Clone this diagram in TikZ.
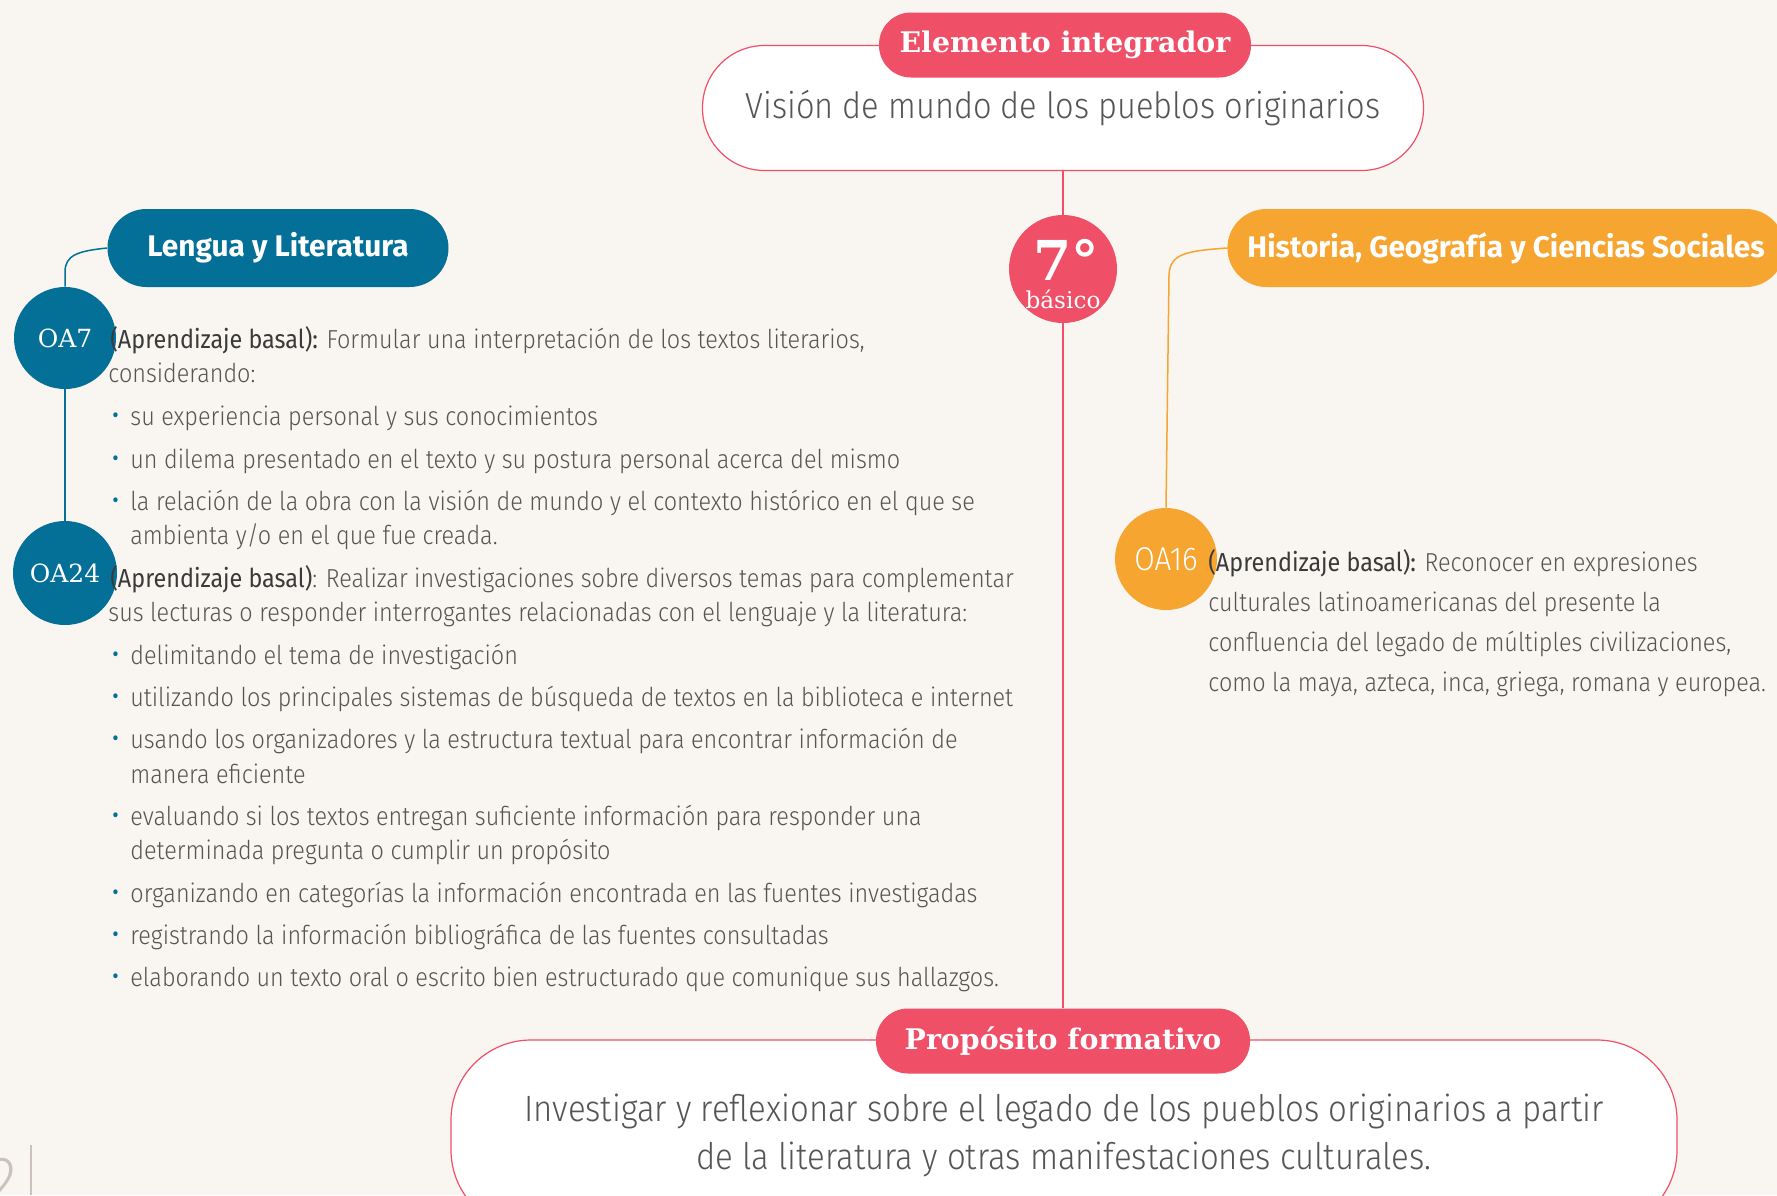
\documentclass[tikz,border=0pt]{standalone}
\usepackage{fontspec}
\IfFontExistsTF{Fira Sans Light}
  {\setmainfont{Fira Sans Light}[FakeStretch=0.9,BoldFont={Fira Sans}]}
  {\setmainfont{Fira Sans}[FakeStretch=0.9]}
\newfontfamily\headsans{Fira Sans}
\newfontfamily\slab{DejaVu Serif}
\usepackage{xcolor}
\usetikzlibrary{positioning}

\definecolor{cream}{HTML}{F9F6F1}
\definecolor{rosered}{HTML}{EF4F67}
\definecolor{petrol}{HTML}{046F97}
\definecolor{amber}{HTML}{F6A531}
\definecolor{ink}{HTML}{555555}
\definecolor{inkdark}{HTML}{3A3A3A}
\definecolor{pagegray}{HTML}{CBC3BB}

\newcommand\lead[1]{\textcolor{inkdark}{\textbf{#1}}}
\newcommand\blt{\makebox[9.5pt][l]{\textcolor{petrol}{\raisebox{-0.6pt}{\scalebox{1.25}{\textbullet}}}}}

\tikzstyle{redline} = [rosered, line width=0.75pt]
\tikzstyle{blueline} = [petrol, line width=0.75pt]
\tikzstyle{orangeline} = [amber, line width=0.75pt]

\begin{document}
\begin{tikzpicture}[x=0.5pt, y=-0.5pt]
\tikzstyle{bigbox} = [rectangle, draw=rosered, line width=0.6pt, fill=white, text=ink, align=center]
\tikzstyle{redpill} = [rectangle, inner sep=0pt, fill=rosered, text=white, font=\slab\bfseries\fontsize{14.2}{16}\selectfont, minimum height=32.5pt, rounded corners=16pt]
\tikzstyle{subject} = [rectangle, inner sep=0pt, text=white, font=\headsans\bfseries\fontsize{14.9}{17}\selectfont, minimum height=39pt, rounded corners=19.5pt]
\tikzstyle{oa} = [circle, inner sep=0pt, fill=petrol, text=white, font=\slab\fontsize{12.5}{14}\selectfont]
\tikzstyle{body} = [anchor=base west, inner sep=0pt, text=ink, font=\fontsize{13}{17}\selectfont]

\useasboundingbox (0,0) rectangle (1777,1195);
\clip (0,0) rectangle (1777,1195);
\fill [cream] (0,0) rectangle (1777,1195);

\node (vision) [bigbox, minimum width=360.5pt, minimum height=62.5pt, rounded corners=31pt, font=\fontsize{18.1}{20}\selectfont] at (1063,108) {Visión de mundo de los pueblos originarios};
\node (elemento) [redpill, minimum width=186pt] at (1065,45) {Elemento integrador};

\node (legado) [bigbox, minimum width=613pt, minimum height=95pt, rounded corners=40pt, font=\fontsize{18.3}{24}\selectfont] at (1064,1135) {Investigar y reflexionar sobre el legado de los pueblos originarios a partir\\de la literatura y otras manifestaciones culturales.};
\node (proposito) [redpill, minimum width=187pt] at (1063,1041) {Propósito formativo};

\node (grado) [circle, fill=rosered, minimum size=54pt, inner sep=0pt] at (1063,269) {};
\node (gradonum) [anchor=base, inner sep=0pt, text=white, font=\slab\bfseries\fontsize{27.5}{28}\selectfont] at (1066,280) {7°};
\node (gradotxt) [anchor=base, inner sep=0pt, text=white, font=\slab\fontsize{11.6}{12}\selectfont] at (1063,308) {básico};

\draw [redline] (vision.south) -- (grado.north);
\draw [redline] (grado.south) -- (proposito.north);

\node (lengua) [subject, fill=petrol, minimum width=170.5pt] at (278,248) {Lengua y Literatura};
\node (oa7) [oa, minimum size=51pt] at (65,338) {OA7};
\node (oa24) [oa, minimum size=52pt] at (65,573) {OA24};
\draw [blueline] (lengua.west) .. controls (78,251) and (65,255) .. (65,272) -- (oa7.north);
\draw [blueline] (oa7.south) -- (oa24.north);

\node (historia) [subject, fill=amber, anchor=west, inner xsep=10pt] at (1227,248) {Historia, Geografía y Ciencias Sociales};
\node (oa16) [circle, inner sep=0pt, fill=amber, minimum size=51pt, text=white, font=\fontsize{16.5}{18}\selectfont] at (1166,559) {OA16};
\draw [orangeline] (historia.west) .. controls (1185,251) and (1170,254) .. (1169,275) -- (oa16.north);

\node (oa7a) [body] at (110,348) {\lead{(Aprendizaje basal):} Formular una interpretación de los textos literarios,};
\node (oa7b) [body] at (108,382) {considerando:};
\node (oa7c) [body] at (111,425) {\blt su experiencia personal y sus conocimientos};
\node (oa7d) [body] at (111,468) {\blt un dilema presentado en el texto y su postura personal acerca del mismo};
\node (oa7e) [body] at (111,510) {\blt la relación de la obra con la visión de mundo y el contexto histórico en el que se};
\node (oa7f) [body] at (130,544) {ambienta y/o en el que fue creada.};

\node (oa24a) [body] at (110,587) {\lead{(Aprendizaje basal)}: Realizar investigaciones sobre diversos temas para complementar};
\node (oa24b) [body] at (108,621) {sus lecturas o responder interrogantes relacionadas con el lenguaje y la literatura:};
\node (oa24c) [body] at (111,664) {\blt delimitando el tema de investigación};
\node (oa24d) [body] at (111,706) {\blt utilizando los principales sistemas de búsqueda de textos en la biblioteca e internet};
\node (oa24e) [body] at (111,748) {\blt usando los organizadores y la estructura textual para encontrar información de};
\node (oa24f) [body] at (130,783) {manera eficiente};
\node (oa24g) [body] at (111,825) {\blt evaluando si los textos entregan suficiente información para responder una};
\node (oa24h) [body] at (130,859) {determinada pregunta o cumplir un propósito};
\node (oa24i) [body] at (111,902) {\blt organizando en categorías la información encontrada en las fuentes investigadas};
\node (oa24j) [body] at (111,944) {\blt registrando la información bibliográfica de las fuentes consultadas};
\node (oa24k) [body] at (111,986) {\blt elaborando un texto oral o escrito bien estructurado que comunique sus hallazgos.};

\node (oa16a) [body] at (1208,571) {\lead{(Aprendizaje basal):} Reconocer en expresiones};
\node (oa16b) [body] at (1208,611) {culturales latinoamericanas del presente la};
\node (oa16c) [body] at (1208,651) {confluencia del legado de múltiples civilizaciones,};
\node (oa16d) [body] at (1208,691) {como la maya, azteca, inca, griega, romana y europea.};

\node (pagina) [anchor=north east, inner sep=0pt, text=pagegray, font=\fontsize{32}{32}\selectfont] at (17,1158) {2};
\draw [pagegray, line width=0.8pt] (31,1145) -- (31,1195);
\end{tikzpicture}
\end{document}
